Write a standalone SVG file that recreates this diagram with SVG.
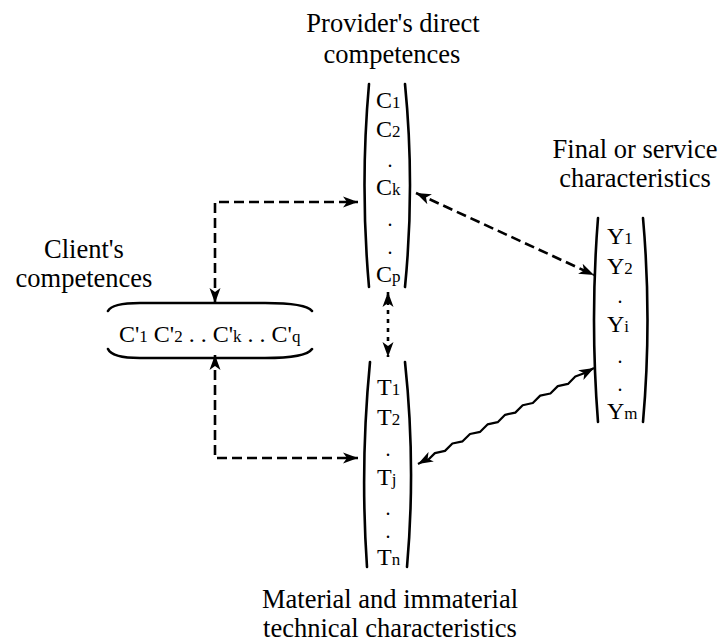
<svg xmlns="http://www.w3.org/2000/svg" width="719" height="642" viewBox="0 0 719 642">
<defs>
<style>
text{font-family:"Liberation Serif","Times New Roman",serif;fill:#000}
.lbl{font-size:26.5px;text-anchor:middle}
.it{font-size:24px}
.sub{font-size:17px}
.dot{font-size:20px;text-anchor:middle}
.par{fill:none;stroke:#000;stroke-width:2.6;stroke-linecap:round}
.con{fill:none;stroke:#000;stroke-width:2.6;stroke-dasharray:10,5}
.sh{fill:none;stroke:#000;stroke-width:2.6;stroke-dasharray:4,5}
.wav{fill:none;stroke:#000;stroke-width:2.2;stroke-linejoin:round}
</style>
<marker id="ah" markerUnits="userSpaceOnUse" markerWidth="16" markerHeight="12" refX="15" refY="6" orient="auto-start-reverse">
<path d="M0,0.5 L15,6 L0,11.5 L4,6 Z" fill="#000"/>
</marker>
</defs>
<rect width="719" height="642" fill="#fff"/>

<g id="provider">
<text class="lbl" x="393" y="32">Provider's direct</text>
<text class="lbl" x="392" y="63">competences</text>
<path class="par" d="M369,84 Q360,185 369,287"/>
<path class="par" d="M405,84 Q415,185 405,287"/>
<text class="it" x="376" y="108">C<tspan class="sub">1</tspan></text>
<text class="it" x="376" y="137">C<tspan class="sub">2</tspan></text>
<text class="dot" x="390" y="167">.</text>
<text class="it" x="376" y="195">C<tspan class="sub">k</tspan></text>
<text class="dot" x="390" y="226">.</text>
<text class="dot" x="390" y="254">.</text>
<text class="it" x="376" y="282">C<tspan class="sub">p</tspan></text>
</g>

<g id="client">
<text class="lbl" x="84" y="258">Client's</text>
<text class="lbl" x="84" y="287">competences</text>
<path class="par" d="M108,311 Q112,303 140,303 L265,303 Q306,303 312,311"/>
<path class="par" d="M108,349 Q112,358 140,358 L265,358 Q306,358 312,349"/>
<text class="it" x="119" y="342">C'<tspan class="sub">1</tspan> C'<tspan class="sub">2</tspan> . . C'<tspan class="sub">k</tspan> . . C'<tspan class="sub">q</tspan></text>
</g>

<g id="technical">
<path class="par" d="M370,362 Q360,465 367,567"/>
<path class="par" d="M405,362 Q416,465 407,567"/>
<text class="it" x="377" y="395">T<tspan class="sub">1</tspan></text>
<text class="it" x="377" y="425">T<tspan class="sub">2</tspan></text>
<text class="dot" x="388" y="456">.</text>
<text class="it" x="377" y="485">T<tspan class="sub">j</tspan></text>
<text class="dot" x="388" y="515">.</text>
<text class="dot" x="388" y="538">.</text>
<text class="it" x="377" y="565">T<tspan class="sub">n</tspan></text>
<text class="lbl" x="390" y="608">Material and immaterial</text>
<text class="lbl" x="390" y="637">technical characteristics</text>
</g>

<g id="final">
<text class="lbl" x="635" y="158">Final or service</text>
<text class="lbl" x="635" y="187">characteristics</text>
<path class="par" d="M598,218 Q590,320 598,422"/>
<path class="par" d="M643,218 Q652,320 643,422"/>
<text class="it" x="607" y="244">Y<tspan class="sub">1</tspan></text>
<text class="it" x="607" y="274">Y<tspan class="sub">2</tspan></text>
<text class="dot" x="620" y="303">.</text>
<text class="it" x="607" y="332">Y<tspan class="sub">i</tspan></text>
<text class="dot" x="620" y="363">.</text>
<text class="dot" x="620" y="391">.</text>
<text class="it" x="607" y="419">Y<tspan class="sub">m</tspan></text>
</g>

<g id="connectors">
<path class="con" d="M215,303 L215,202 L358,202" marker-start="url(#ah)" marker-end="url(#ah)"/>
<path class="con" d="M215,355 L215,458 L358,458" marker-start="url(#ah)" marker-end="url(#ah)"/>
<path class="sh" d="M388,292 L388,357" marker-start="url(#ah)" marker-end="url(#ah)"/>
<path class="con" d="M416,193 L594,275" marker-start="url(#ah)" marker-end="url(#ah)"/>
<path class="wav" d="M418,464 L423.3,461.1 L427.5,460.5 L434.9,453.1 L445,450.9 L452.4,443.5 L462.6,441.3 L470,434 L480.2,431.8 L487.5,424.4 L497.7,422.2 L505.1,414.8 L515.3,412.6 L522.7,405.2 L532.8,403 L540.2,395.6 L550.4,393.5 L557.8,386.1 L568,383.9 L575.3,376.5 L584.8,373 L594,368" marker-start="url(#ah)" marker-end="url(#ah)"/>
</g>
</svg>
